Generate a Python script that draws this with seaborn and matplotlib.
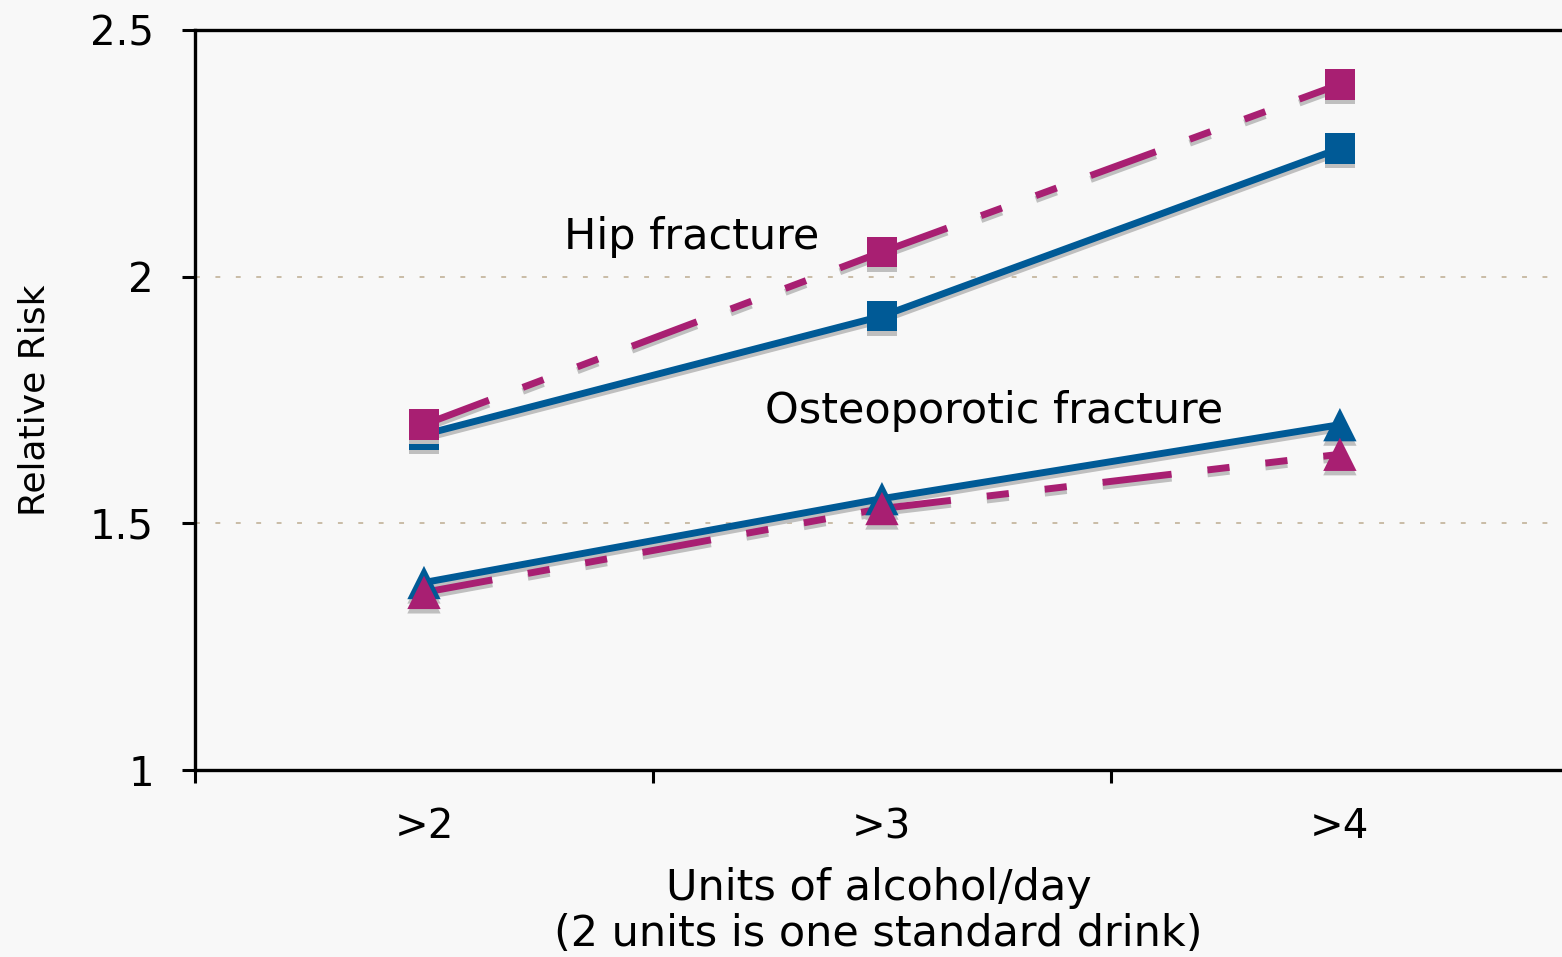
import numpy as np
import pandas as pd
import matplotlib
matplotlib.use("Agg")
import matplotlib.pyplot as plt
import matplotlib.patheffects as pe
import seaborn as sns

# ---- data ----
categories = [">2", ">3", ">4"]
hip_blue = [1.68, 1.92, 2.26]
hip_magenta = [1.70, 2.05, 2.39]
osteo_blue = [1.38, 1.55, 1.70]
osteo_magenta = [1.36, 1.53, 1.64]
y_ticks = [1, 1.5, 2, 2.5]
y_tick_labels = ["1", "1.5", "2", "2.5"]

BLUE = "#005a96"
MAGENTA = "#a81f72"
BG = "#f8f8f8"
SHADOW = "#bfbfbf"

sns.set_style("white")
plt.rcParams["font.family"] = ["DejaVu Sans"]
plt.rcParams["text.color"] = "black"
plt.rcParams["axes.labelcolor"] = "black"

fig = plt.figure(figsize=(15.62, 9.57), dpi=100, facecolor=BG)
ax = fig.add_axes([195 / 1562, 1 - 770 / 957, 1 - 195 / 1562, (770 - 30) / 957])
ax.set_facecolor(BG)

xpos = np.arange(len(categories)) + 0.5

line_fx = [pe.SimpleLineShadow(offset=(0, -2.8), shadow_color=SHADOW, alpha=1), pe.Normal()]
mark_fx = [pe.SimplePatchShadow(offset=(0, -3.2), shadow_rgbFace=SHADOW, alpha=1), pe.Normal()]

dash_pattern = (10, 5.2, 3.2, 5.2, 3.2, 5.2)


def draw_series(vals, color, marker, msize, dashed):
    df = pd.DataFrame({"x": xpos, "y": vals})
    if dashed:
        # dash pattern restarts at every data point
        for i in range(len(vals) - 1):
            seg = df.iloc[i:i + 2]
            sns.lineplot(data=seg, x="x", y="y", ax=ax, color=color, lw=5,
                         legend=False, estimator=None, sort=False)
            ln = ax.lines[-1]
            ln.set_dashes(dash_pattern)
            ln.set_dash_capstyle("butt")
            ln.set_path_effects(line_fx)
    else:
        sns.lineplot(data=df, x="x", y="y", ax=ax, color=color, lw=5,
                     legend=False, estimator=None, sort=False)
        ln = ax.lines[-1]
        ln.set_solid_capstyle("butt")
        ln.set_path_effects(line_fx)
    sns.scatterplot(data=df, x="x", y="y", ax=ax, color=color, marker=marker,
                    s=msize ** 2, linewidth=0, legend=False, zorder=3)
    ax.collections[-1].set_path_effects(mark_fx)


draw_series(hip_blue, BLUE, "s", 22, False)
draw_series(hip_magenta, MAGENTA, "s", 22, True)
draw_series(osteo_blue, BLUE, "^", 24, False)
draw_series(osteo_magenta, MAGENTA, "^", 24, True)

# gridlines
for gy in [1.5, 2.0]:
    ax.axhline(gy, color="#c9bca6", lw=1.4, ls=(0, (2.5, 8)), zorder=0)

ax.set_xlim(0, 2.985)
ax.set_ylim(1, 2.5)

ax.set_yticks(y_ticks)
ax.set_yticklabels(y_tick_labels)
ax.set_xticks([0, 1, 2])
ax.set_xticklabels([])
ax.set_xticks(xpos, minor=True)
ax.set_xticklabels(categories, minor=True)

ax.tick_params(axis="both", which="major", direction="out", length=9.5, width=2.2,
               color="black", labelsize=29, labelcolor="black", bottom=True, left=True)
ax.tick_params(axis="y", which="major", pad=20)
ax.tick_params(axis="x", which="minor", length=0, pad=27, labelsize=29,
               labelcolor="black", bottom=True)

for s in ["left", "bottom", "top"]:
    ax.spines[s].set_visible(True)
    ax.spines[s].set_linewidth(2.4)
    ax.spines[s].set_color("black")
ax.spines["right"].set_visible(False)

ax.set_xlabel("Units of alcohol/day\n(2 units is one standard drink)", fontsize=31,
              labelpad=14, linespacing=1.12, color="black")
ax.set_ylabel("Relative Risk", fontsize=26, labelpad=28, color="black")

ax.text(0.805, 2.08, "Hip fracture", fontsize=31, ha="left", va="center", color="black")
ax.text(1.245, 1.727, "Osteoporotic fracture", fontsize=31, ha="left", va="center", color="black")

fig.savefig("out.png", dpi=100, facecolor=BG)
